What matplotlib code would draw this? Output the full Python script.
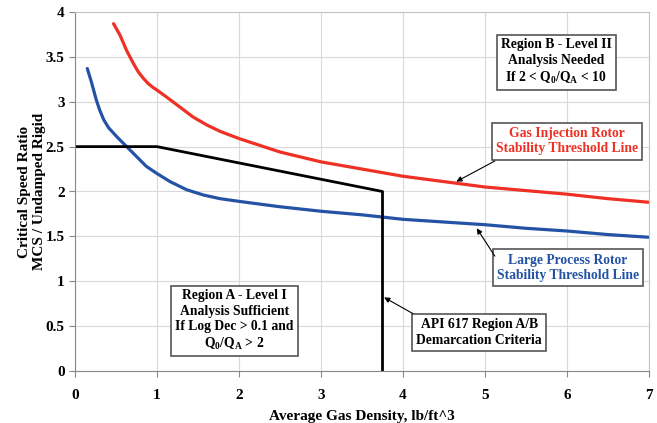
import matplotlib
matplotlib.use("Agg")
import matplotlib.pyplot as plt

# ---- data ----
red_x = [0.47, 0.55, 0.63, 0.71, 0.77, 0.83, 0.89, 0.95, 1.0, 1.12, 1.28, 1.44, 1.61, 1.77, 2.0, 2.5, 3.0, 3.5, 4.0, 4.5, 5.0, 5.5, 6.0, 6.5, 7.0]
red_y = [3.87, 3.74, 3.57, 3.43, 3.335, 3.265, 3.205, 3.16, 3.13, 3.05, 2.94, 2.83, 2.74, 2.67, 2.59, 2.44, 2.33, 2.25, 2.17, 2.11, 2.05, 2.01, 1.97, 1.92, 1.88]

blue_x = [0.15, 0.2, 0.26, 0.30, 0.35, 0.41, 0.51, 0.63, 0.75, 0.87, 1.0, 1.16, 1.36, 1.57, 1.77, 2.0, 2.5, 3.0, 3.5, 4.0, 4.5, 5.0, 5.5, 6.0, 6.5, 7.0]
blue_y = [3.37, 3.22, 3.02, 2.91, 2.80, 2.71, 2.61, 2.50, 2.39, 2.28, 2.20, 2.11, 2.02, 1.96, 1.92, 1.89, 1.83, 1.78, 1.74, 1.69, 1.66, 1.63, 1.59, 1.56, 1.52, 1.49]

black_x = [0, 1.0, 3.75, 3.75]
black_y = [2.5, 2.5, 2.0, 0.0]

x_ticks = [0, 1, 2, 3, 4, 5, 6, 7]
y_ticks = [0, 0.5, 1, 1.5, 2, 2.5, 3, 3.5, 4]
y_tick_labels = ["0", "0.5", "1", "1.5", "2", "2.5", "3", "3.5", "4"]

RED = "#ee3124"
BLUE = "#2453a6"

plt.rcParams['font.family'] = ['Liberation Serif', 'DejaVu Serif']
plt.rcParams['font.weight'] = 'bold'
plt.rcParams['mathtext.fontset'] = 'custom'
plt.rcParams['mathtext.rm'] = 'Liberation Serif:bold'
plt.rcParams['mathtext.it'] = 'Liberation Serif:bold'
plt.rcParams['mathtext.bf'] = 'Liberation Serif:bold'

fig = plt.figure(figsize=(6.57, 4.23), dpi=100)
ax = fig.add_axes([75/657, 52/423, 574/657, 359/423])

ax.set_xlim(0, 7)
ax.set_ylim(0, 4)
ax.set_xticks(x_ticks)
ax.set_yticks(y_ticks)
ax.set_yticklabels(y_tick_labels)
ax.grid(True, color="#d9d9d9", lw=0.8)
ax.set_axisbelow(True)
for s in ['left', 'bottom']:
    ax.spines[s].set_color('#888888')
for s in ['top', 'right']:
    ax.spines[s].set_color('#c4c4c4')
ax.tick_params(axis='both', colors='#888888', labelcolor='black', labelsize=11, length=4, width=0.8)
for lab in ax.get_xticklabels() + ax.get_yticklabels():
    lab.set_fontweight('bold')
ax.tick_params(axis='x', pad=9)

ax.plot(red_x, red_y, color=RED, lw=2.3, solid_capstyle='round', solid_joinstyle='round')
ax.plot(blue_x, blue_y, color=BLUE, lw=2.3, solid_capstyle='round', solid_joinstyle='round')
ax.plot(black_x, black_y, color='black', lw=2.0)

ax.set_xlabel("Average Gas Density, lb/ft^3", fontsize=11, fontweight='bold', labelpad=6)
ax.set_ylabel("Critical Speed Ratio\nMCS / Undamped Rigid", fontsize=11, fontweight='bold', linespacing=1.25)
ax.yaxis.set_label_coords(-0.05, 0.5)

box = dict(boxstyle='square,pad=0.3', facecolor='white', edgecolor='#555555', lw=1.2)
tkw = dict(ha='center', va='center', fontsize=9.8, fontweight='bold', linespacing=1.25)

ax.text(5.87, 3.44, "Region B - Level II\nAnalysis Needed\nIf 2 < Q$_0$/Q$_\\mathrm{A}$ < 10", bbox=box, **tkw)
ax.text(6.0, 2.56, "Gas Injection Rotor\nStability Threshold Line", color=RED, bbox=box, **tkw)
ax.text(6.01, 1.15, "Large Process Rotor\nStability Threshold Line", color=BLUE, bbox=box, **tkw)
ax.text(4.93, 0.43, "API 617 Region A/B\nDemarcation Criteria", bbox=box, **tkw)
ax.text(1.945, 0.56, "Region A - Level I\nAnalysis Sufficient\nIf Log Dec > 0.1 and\nQ$_0$/Q$_\\mathrm{A}$ > 2", bbox=box, **tkw)

akw = dict(arrowstyle='-|>', color='black', lw=0.8, mutation_scale=8, shrinkA=0, shrinkB=0)
ax.annotate('', xy=(4.65, 2.11), xytext=(5.12, 2.34), arrowprops=akw)
ax.annotate('', xy=(4.90, 1.59), xytext=(5.12, 1.28), arrowprops=akw)
ax.annotate('', xy=(3.77, 0.82), xytext=(4.12, 0.64), arrowprops=akw)

fig.savefig("out.png", dpi=100)
